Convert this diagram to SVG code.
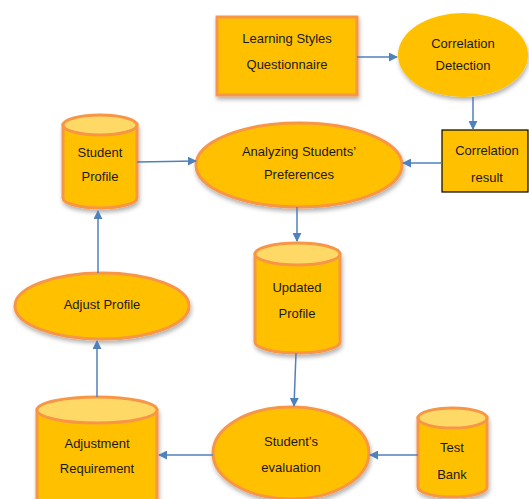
<svg xmlns="http://www.w3.org/2000/svg" width="529" height="499" viewBox="0 0 529 499">
<defs>
<marker id="arr" viewBox="0 0 10 10" refX="9" refY="5" markerWidth="9" markerHeight="9" markerUnits="userSpaceOnUse" orient="auto">
<path d="M0,0 L10,5 L0,10 Z" fill="#4F81BD"/>
</marker>
<filter id="sh" x="-20%" y="-20%" width="140%" height="150%">
<feDropShadow dx="1" dy="3" stdDeviation="2" flood-color="#000" flood-opacity="0.3"/>
</filter>
</defs>
<style>
.n{fill:#FFC000;stroke:#F79646;stroke-width:3;filter:url(#sh)}
.cap{fill:#FFD966;stroke:#F79646;stroke-width:3}
.plain{fill:#FFC000;filter:url(#sh)}
.box{fill:#FFC000;stroke:#000;stroke-width:1.2}
text{font-family:"Liberation Sans",Arial,sans-serif;font-size:13px;fill:#1a1a1a;text-anchor:middle}
.c line{stroke:#4F81BD;stroke-width:1.5;marker-end:url(#arr)}
</style>
<rect width="529" height="499" fill="#fff"/>

<g id="learning-styles">
<rect class="n" x="217" y="17" width="140" height="78"/>
<text x="287" y="43">Learning Styles</text>
<text x="287" y="69">Questionnaire</text>
</g>

<g id="correlation-detection">
<ellipse class="plain" cx="463" cy="55" rx="65" ry="42"/>
<text x="463" y="48">Correlation</text>
<text x="463" y="70">Detection</text>
</g>

<g id="correlation-result">
<rect class="box" x="442" y="130" width="86" height="62"/>
<text x="487" y="155">Correlation</text>
<text x="487" y="182">result</text>
</g>

<g id="analyzing">
<ellipse class="n" cx="299" cy="165" rx="103" ry="42"/>
<text x="299" y="156">Analyzing Students’</text>
<text x="299" y="179">Preferences</text>
</g>

<g id="student-profile">
<path class="n" d="M63,125 L63,198 A37,10 0 0 0 137,198 L137,125 Z"/>
<ellipse class="cap" cx="100" cy="125" rx="37" ry="10"/>
<text x="100" y="157">Student</text>
<text x="100" y="181">Profile</text>
</g>

<g id="adjust-profile">
<ellipse class="n" cx="102" cy="306" rx="87" ry="33"/>
<text x="102" y="309">Adjust Profile</text>
</g>

<g id="updated-profile">
<path class="n" d="M255,254 L255,342 A42.5,11 0 0 0 340,342 L340,254 Z"/>
<ellipse class="cap" cx="297.5" cy="254" rx="42.5" ry="11"/>
<text x="297" y="292">Updated</text>
<text x="297" y="318">Profile</text>
</g>

<g id="students-evaluation">
<ellipse class="n" cx="291" cy="453" rx="78" ry="46"/>
<text x="291" y="446">Student’s</text>
<text x="291" y="472">evaluation</text>
</g>

<g id="test-bank">
<path class="n" d="M418,418 L418,487 A34.5,10 0 0 0 487,487 L487,418 Z"/>
<ellipse class="cap" cx="452.5" cy="418" rx="34.5" ry="10"/>
<text x="452" y="452">Test</text>
<text x="452" y="479">Bank</text>
</g>

<g id="adjustment-requirement">
<path class="n" d="M37,410 L37,500 A60,13 0 0 0 157,500 L157,410 Z"/>
<ellipse class="cap" cx="97" cy="410" rx="60" ry="13"/>
<text x="97" y="448">Adjustment</text>
<text x="97" y="473">Requirement</text>
</g>

<g id="connectors" class="c">
<line x1="357" y1="57" x2="397" y2="57"/>
<line x1="473" y1="97" x2="473" y2="129"/>
<line x1="442" y1="163" x2="403" y2="163"/>
<line x1="137" y1="162" x2="196" y2="161"/>
<line x1="297" y1="207" x2="297" y2="241"/>
<line x1="98" y1="273" x2="98" y2="211"/>
<line x1="296" y1="353" x2="294" y2="406"/>
<line x1="418" y1="455" x2="370" y2="455"/>
<line x1="213" y1="455" x2="159" y2="455"/>
<line x1="97" y1="397" x2="97" y2="341"/>
</g>
</svg>
